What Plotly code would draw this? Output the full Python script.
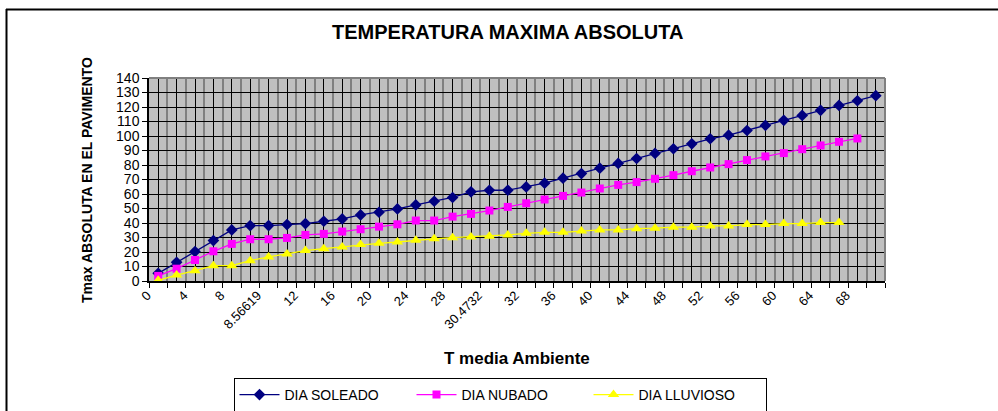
import plotly.graph_objects as go

# Category labels shown under every second category of the x axis
x_labels = ["0", "4", "8", "8.56619", "12", "16", "20", "24", "28", "30.4732",
            "32", "36", "40", "44", "48", "52", "56", "60", "64", "68"]
n_categories = 40

dia_soleado = [5.3, 12.9, 20.3, 27.9, 35.2, 38.2, 38.2, 38.9, 39.6, 41.2,
               42.8, 45.6, 47.4, 49.7, 52.5, 55.0, 57.6, 61.5, 62.6, 62.6,
               64.9, 67.5, 70.9, 74.1, 77.8, 81.1, 84.5, 88.0, 91.2, 94.6,
               98.1, 100.6, 103.8, 107.3, 110.8, 114.2, 117.7, 121.1, 124.3, 127.8]
dia_nubado = [3.5, 8.5, 14.5, 20.5, 25.6, 28.8, 28.8, 29.7, 31.8, 32.5,
              34.1, 35.7, 37.5, 39.1, 41.7, 41.7, 44.4, 46.3, 48.6, 51.1,
              53.6, 56.2, 58.7, 61.0, 63.8, 66.3, 68.2, 70.5, 73.0, 75.7,
              78.3, 80.6, 83.4, 85.9, 88.2, 90.9, 93.5, 96.0, 98.3]
dia_lluvioso = [0.5, 4.1, 7.1, 10.6, 10.6, 14.0, 16.6, 18.7, 21.0, 22.3,
                23.5, 25.1, 26.0, 26.9, 28.1, 29.1, 29.9, 30.4, 30.9, 31.8,
                32.9, 33.6, 33.6, 34.5, 35.2, 35.2, 36.1, 36.4, 37.1, 37.1,
                38.0, 38.0, 38.9, 38.9, 39.6, 39.6, 40.3, 40.3]

FONT = "Arial, Liberation Sans, sans-serif"

fig = go.Figure()
series = [
    ("DIA SOLEADO", dia_soleado, "#000080", "diamond", 9),
    ("DIA NUBADO", dia_nubado, "#FF00FF", "square", 8),
    ("DIA LLUVIOSO", dia_lluvioso, "#FFFF00", "triangle-up", 10),
]
for name, vals, color, symbol, size in series:
    fig.add_trace(go.Scatter(
        x=list(range(len(vals))), y=vals, name=name,
        mode="lines+markers",
        line=dict(color=color, width=1.3),
        marker=dict(symbol=symbol, size=size, color=color, line=dict(width=0)),
    ))

# Labels every second category, blanks between
tick_pos = list(range(n_categories))
tick_txt = [x_labels[i // 2] if i % 2 == 0 else "" for i in tick_pos]
boundaries = [i - 0.5 for i in range(n_categories + 1)]

fig.update_xaxes(
    range=[-0.5, n_categories - 0.5],
    tickmode="array", tickvals=tick_pos, ticktext=tick_txt,
    tickangle=-45, ticks="", showgrid=True, gridcolor="#000000", gridwidth=1,
    ticklabelshift=-11,
    showline=True, linecolor="#000000", linewidth=1.5,
    tickfont=dict(family=FONT, size=13, color="#000000"),
    minor=dict(tickmode="array", tickvals=boundaries, ticks="outside",
               ticklen=5, tickcolor="#000000", showgrid=True,
               gridcolor="#808080", gridwidth=2),
    zeroline=False, fixedrange=True,
)
fig.update_yaxes(
    range=[0, 140], dtick=10, tick0=0,
    ticks="outside", ticklen=5, tickcolor="#000000",
    showgrid=True, gridcolor="#000000", gridwidth=1,
    showline=True, linecolor="#000000", linewidth=1.5,
    tickfont=dict(family=FONT, size=14, color="#000000"),
    zeroline=False, fixedrange=True,
)

W, H = 998, 411
L, R, T, B = 149, 885, 78, 281


def px(xp):
    return (xp - L) / (R - L)


def py(yp):
    return (B - yp) / (B - T)


shapes = [
    # plot area border (top / right)
    dict(type="line", xref="paper", yref="paper", x0=0, x1=1, y0=1, y1=1,
         line=dict(color="#808080", width=2)),
    dict(type="line", xref="paper", yref="paper", x0=1, x1=1, y0=0, y1=1,
         line=dict(color="#808080", width=2)),
    # chart area frame
    dict(type="line", xref="paper", yref="paper", x0=px(6), x1=px(998),
         y0=py(9.5), y1=py(9.5), line=dict(color="#000000", width=2)),
    dict(type="line", xref="paper", yref="paper", x0=px(6.5), x1=px(6.5),
         y0=py(9), y1=py(411), line=dict(color="#000000", width=2)),
]

annotations = [
    dict(text="<b>TEMPERATURA MAXIMA ABSOLUTA</b>", xref="paper", yref="paper",
         x=px(507), y=py(32), showarrow=False, xanchor="center", yanchor="middle",
         font=dict(family=FONT, size=20, color="#000000")),
    dict(text="<b>Tmax ABSOLUTA EN EL PAVIMENTO</b>", xref="paper", yref="paper",
         x=px(87), y=py(180), showarrow=False, textangle=-90,
         xanchor="center", yanchor="middle",
         font=dict(family=FONT, size=14, color="#000000")),
    dict(text="<b>T media Ambiente</b>", xref="paper", yref="paper",
         x=px(517), y=py(358), showarrow=False, xanchor="center", yanchor="middle",
         font=dict(family=FONT, size=17, color="#000000")),
]

fig.update_layout(
    width=W, height=H,
    margin=dict(l=L, r=W - R, t=T, b=H - B, autoexpand=False),
    paper_bgcolor="#FFFFFF", plot_bgcolor="#C0C0C0",
    showlegend=True,
    legend=dict(orientation="h", x=px(500), xanchor="center", y=py(378), yanchor="top",
                bgcolor="#FFFFFF", bordercolor="#000000", borderwidth=1,
                font=dict(family=FONT, size=14, color="#000000"),
                itemwidth=40, entrywidth=122, tracegroupgap=0),
    shapes=shapes, annotations=annotations,
)

fig.write_html("out.html")
